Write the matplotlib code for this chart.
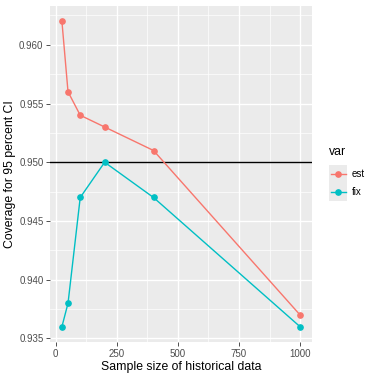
import matplotlib
matplotlib.use("Agg")
import matplotlib.pyplot as plt
from matplotlib.lines import Line2D
from matplotlib.patches import Rectangle
from matplotlib.ticker import MultipleLocator

sample_size = [25, 50, 100, 200, 400, 1000]
est = [0.962, 0.956, 0.954, 0.953, 0.951, 0.937]
fix = [0.936, 0.938, 0.947, 0.950, 0.947, 0.936]
series_names = ["est", "fix"]
colors = ["#F8766D", "#00BFC4"]

plt.rcParams['font.family'] = ['Liberation Sans', 'DejaVu Sans']

W, H = 371, 376
fig = plt.figure(figsize=(W/100, H/100), dpi=100)
ax = fig.add_axes([50/W, 34/H, 262/W, 336/H])
ax.set_facecolor("#EBEBEB")
for s in ax.spines.values():
    s.set_visible(False)

ax.set_xlim(-23.75, 1048.75)
ax.set_ylim(0.9347, 0.9633)
ax.xaxis.set_minor_locator(MultipleLocator(125))
ax.yaxis.set_minor_locator(MultipleLocator(0.0025))
ax.set_xticks([0, 250, 500, 750, 1000])
ax.set_yticks([0.935, 0.940, 0.945, 0.950, 0.955, 0.960])
ax.set_yticklabels(["0.935", "0.940", "0.945", "0.950", "0.955", "0.960"])
ax.grid(which="major", color="white", linewidth=1.0)
ax.grid(which="minor", color="white", linewidth=0.5)
ax.set_axisbelow(True)
ax.tick_params(which="major", length=2.75, width=0.6, color="#333333", labelcolor="#4D4D4D", labelsize=7, pad=2)
ax.tick_params(which="minor", length=0)

ax.axhline(0.95, color="black", linewidth=1.0, zorder=2)
for name, vals, c in zip(series_names, [est, fix], colors):
    ax.plot(sample_size, vals, color=c, linewidth=1.0, marker="o", markersize=3.8, zorder=3)

ax.set_xlabel("Sample size of historical data", fontsize=8.8, labelpad=2)
ax.set_ylabel("Coverage for 95 percent CI", fontsize=8.8, labelpad=2)

# legend drawn in figure pixel coordinates
def fx(px):
    return px / W
def fy(py):
    return 1 - py / H

fig.text(fx(329), fy(152), "var", fontsize=8.8, ha="left", va="center")
fig.patches.append(Rectangle((fx(329), fy(201)), fx(347) - fx(329), fy(165) - fy(201),
                             transform=fig.transFigure, facecolor="#EBEBEB", edgecolor="none"))
for i, (name, c) in enumerate(zip(series_names, colors)):
    yc = 174 + 18 * i
    fig.add_artist(Line2D([fx(330.5), fx(345.5)], [fy(yc), fy(yc)], color=c, linewidth=1.0,
                          transform=fig.transFigure))
    fig.add_artist(Line2D([fx(338)], [fy(yc)], color=c, marker="o", markersize=3.8,
                          linestyle="none", transform=fig.transFigure))
    fig.text(fx(352), fy(yc), name, fontsize=7, ha="left", va="center")

fig.savefig("out.png", dpi=100)
